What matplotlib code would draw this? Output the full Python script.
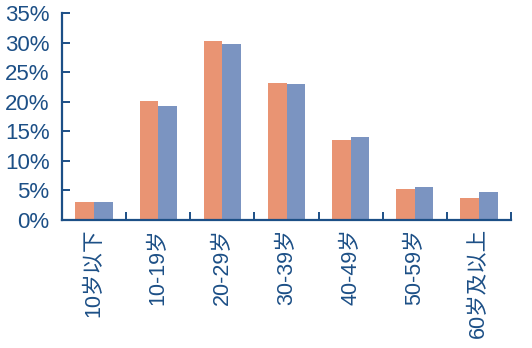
import matplotlib
matplotlib.use("Agg")
import matplotlib.pyplot as plt
import numpy as np

# age groups and the two series (percent)
age_groups = ["10岁以下", "10-19岁", "20-29岁", "30-39岁", "40-49岁", "50-59岁", "60岁及以上"]
orange_vals = [3.1, 20.1, 30.3, 23.2, 13.6, 5.2, 3.8]
blue_vals = [3.0, 19.3, 29.8, 23.0, 14.0, 5.6, 4.7]
y_ticks = [0, 5, 10, 15, 20, 25, 30, 35]

plt.rcParams['font.family'] = ['Liberation Sans', 'Noto Sans CJK SC', 'DejaVu Sans']

text_col = "#1c4f86"
fig = plt.figure(figsize=(5.32, 3.48), dpi=100)
ax = fig.add_axes([62/532, (348-220)/348, (511-62)/532, (220-13)/348])

x = np.arange(len(age_groups))
w = 0.29
ax.bar(x - w/2, orange_vals, w, color="#e99473", linewidth=0)
ax.bar(x + w/2, blue_vals, w, color="#7b94c1", linewidth=0)

ax.set_xlim(-0.5, len(age_groups) - 0.5)
ax.set_ylim(0, 35)

ax.set_yticks(y_ticks)
ax.set_yticklabels([str(t) + "%" for t in y_ticks], fontsize=16, color=text_col)
ax.tick_params(axis='y', direction='in', length=6, width=1.4, color=text_col, pad=9)

ax.set_xticks(x)
ax.set_xticklabels(age_groups, rotation=90, fontsize=15.5, color=text_col, va='top', ha='center')
ax.tick_params(axis='x', which='major', length=0, pad=6)
ax.set_xticks(np.arange(0.5, len(age_groups)), minor=True)
ax.tick_params(axis='x', which='minor', direction='in', length=6, width=1.4, color=text_col)

for s in ['top', 'right']:
    ax.spines[s].set_visible(False)
for s in ['left', 'bottom']:
    ax.spines[s].set_color(text_col)
    ax.spines[s].set_linewidth(1.6)

fig.savefig("out.png", dpi=100)
